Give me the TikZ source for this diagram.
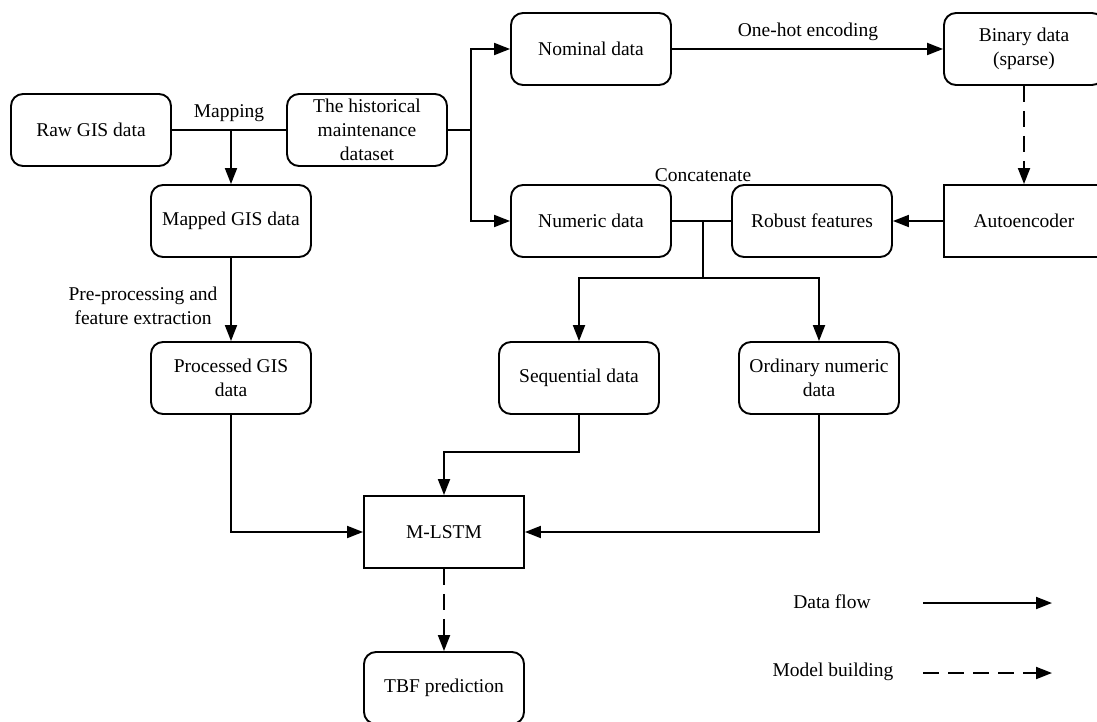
\documentclass[tikz,border=0pt]{standalone}
\usepackage{fontspec}
\setmainfont{Liberation Serif}
\usetikzlibrary{arrows.meta}
\begin{document}
\begin{tikzpicture}[x=1pt,y=-1pt,
  font=\fontsize{19.5}{24}\selectfont,
  line width=1.9pt,
  flow/.style={-{Triangle[length=16pt,width=12pt]}},
  build/.style={-{Triangle[length=16pt,width=12pt]},dash pattern=on 16pt off 9pt},
  rbox/.style={draw,rounded corners=12pt,minimum width=160pt,minimum height=72pt,
    align=center,inner sep=2pt},
  sbox/.style={draw,minimum width=160pt,minimum height=72pt,align=center,inner sep=2pt},
  lbl/.style={inner sep=0pt,align=center}]
\useasboundingbox (0,0) rectangle (1097,722);

% boxes
\node[rbox] (raw) at (91,130) {Raw GIS data};
\node[rbox] (hist) at (367,130) {The historical\\maintenance\\dataset};
\node[rbox] (mapped) at (231,221) {Mapped GIS data};
\node[rbox] (nominal) at (591,49) {Nominal data};
\node[rbox] (binary) at (1024,49) {Binary data\\(sparse)};
\node[rbox] (numeric) at (591,221) {Numeric data};
\node[rbox] (robust) at (812,221) {Robust features};
\node[sbox] (auto) at (1024,221) {Autoencoder};
\node[rbox] (processed) at (231,378) {Processed GIS\\data};
\node[rbox] (sequential) at (579,378) {Sequential data};
\node[rbox] (ordinary) at (819,378) {Ordinary numeric\\data};
\node[sbox] (mlstm) at (444,532) {M-LSTM};
\node[rbox] (tbf) at (444,688) {TBF prediction};

% junction points
\coordinate (mapj) at (231,130);
\coordinate (splitj) at (471,130);
\coordinate (catj) at (703,221);
\coordinate (catsplit) at (703,278);
\coordinate (seqbend) at (579,452);

% mapping raw data onto the maintenance records
\draw (raw.east) -- (hist.west);
\draw[flow] (mapj) -- (mapped.north);
\node[lbl] at (229,113) {Mapping};

% splitting the dataset
\draw (hist.east) -- (splitj);
\draw[flow] (splitj) |- (nominal.west);
\draw[flow] (splitj) |- (numeric.west);

% nominal branch
\draw[flow] (nominal.east) -- (binary.west);
\node[lbl] at (808,32) {One-hot encoding};
\draw[build] (binary.south) -- (auto.north);
\draw[flow] (auto.west) -- (robust.east);

% concatenation
\draw (numeric.east) -- (robust.west);
\node[lbl] at (703,175) {Concatenate};
\draw (catj) -- (catsplit);
\draw[flow] (catsplit) -| (sequential.north);
\draw[flow] (catsplit) -| (ordinary.north);

% GIS branch
\draw[flow] (mapped.south) -- (processed.north);
\node[lbl] at (143,306) {Pre-processing and\\feature extraction};

% into the model
\draw[flow] (processed.south) |- (mlstm.west);
\draw[flow] (ordinary.south) |- (mlstm.east);
\draw[flow] (sequential.south) -- (seqbend) -| (mlstm.north);
\draw[build] (mlstm.south) -- (tbf.north);

% legend
\node[lbl] (lgflow) at (832,602) {Data flow};
\node[lbl] (lgbuild) at (833,672) {Model building};
\coordinate (lgf1) at (923,603);
\coordinate (lgf2) at (1052,603);
\coordinate (lgb1) at (923,673);
\coordinate (lgb2) at (1052,673);
\draw[flow] (lgf1) -- (lgf2);
\draw[build] (lgb1) -- (lgb2);
\end{tikzpicture}
\end{document}
